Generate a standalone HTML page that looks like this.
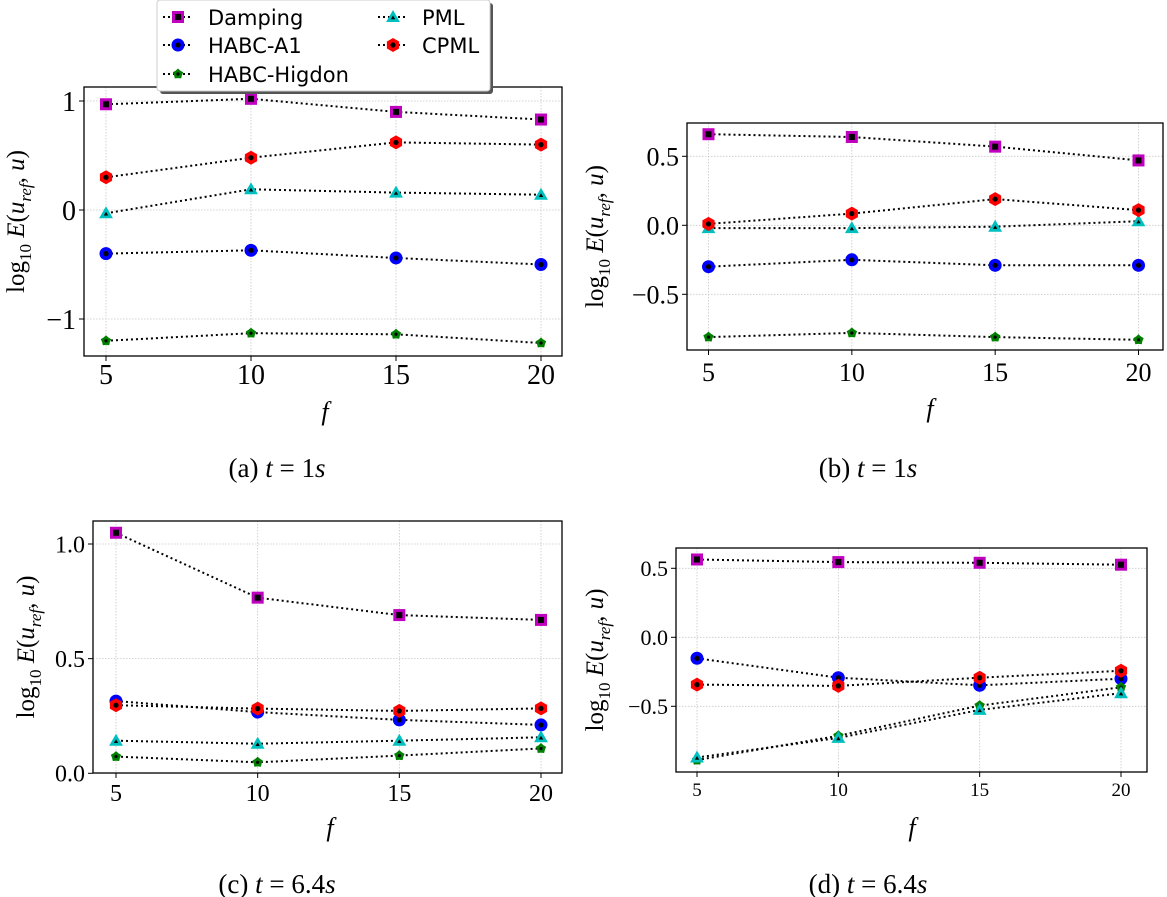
<!DOCTYPE html>
<html><head><meta charset="utf-8">
<style>
body{margin:0;background:#fff;}
svg{display:block;}
.tk{font-family:"Liberation Serif",serif;fill:#000;}
.lg{font-family:"DejaVu Sans","Liberation Sans",sans-serif;font-size:21px;fill:#000;}
</style></head>
<body>
<svg id="fig" width="1167" height="897" viewBox="0 0 1167 897" xmlns="http://www.w3.org/2000/svg"></svg>
<script>
const categories = [5, 10, 15, 20];
const seriesNames = ["Damping", "HABC-A1", "HABC-Higdon", "PML", "CPML"];
// panel a (t=1s)
const aDamping = [0.97, 1.02, 0.90, 0.83];
const aA1 = [-0.40, -0.37, -0.44, -0.50];
const aHigdon = [-1.20, -1.13, -1.14, -1.22];
const aPML = [-0.03, 0.19, 0.16, 0.14];
const aCPML = [0.30, 0.48, 0.62, 0.60];
const aYTicks = [-1, 0, 1];
const aYTickLabels = ["\u22121", "0", "1"];
// panel b (t=1s)
const bDamping = [0.66, 0.64, 0.57, 0.47];
const bA1 = [-0.30, -0.25, -0.29, -0.29];
const bHigdon = [-0.81, -0.78, -0.81, -0.83];
const bPML = [-0.02, -0.02, -0.01, 0.03];
const bCPML = [0.01, 0.085, 0.19, 0.11];
const bYTicks = [-0.5, 0, 0.5];
const bYTickLabels = ["\u22120.5", "0.0", "0.5"];
// panel c (t=6.4s)
const cDamping = [1.049, 0.766, 0.690, 0.669];
const cA1 = [0.315, 0.267, 0.233, 0.211];
const cHigdon = [0.073, 0.048, 0.077, 0.108];
const cPML = [0.142, 0.129, 0.142, 0.157];
const cCPML = [0.297, 0.282, 0.272, 0.283];
const cYTicks = [0, 0.5, 1.0];
const cYTickLabels = ["0.0", "0.5", "1.0"];
// panel d (t=6.4s)
const dDamping = [0.564, 0.545, 0.54, 0.526];
const dA1 = [-0.152, -0.293, -0.348, -0.30];
const dHigdon = [-0.89, -0.714, -0.495, -0.362];
const dPML = [-0.871, -0.729, -0.526, -0.405];
const dCPML = [-0.343, -0.352, -0.293, -0.243];
const dYTicks = [-0.5, 0, 0.5];
const dYTickLabels = ["\u22120.5", "0.0", "0.5"];

const NS = "http://www.w3.org/2000/svg";
const svg = document.getElementById("fig");
function mk(tag, attrs, parent){
  const e = document.createElementNS(NS, tag);
  for (const k in attrs) e.setAttribute(k, attrs[k]);
  (parent||svg).appendChild(e);
  return e;
}
function poly(cx, cy, r, n, rot){
  const p=[];
  for(let i=0;i<n;i++){const a=rot+i*2*Math.PI/n;p.push((cx+r*Math.cos(a)).toFixed(1)+","+(cy+r*Math.sin(a)).toFixed(1));}
  return p.join(" ");
}
function marker(g, kind, x, y, big){
  const s = big ? 1 : 0.75;
  let e, e2;
  if(kind==="Damping"){
    e = mk("rect",{x:x-6*s,y:y-6*s,width:12*s,height:12*s,fill:"#bf00bf"},g);
    e2 = mk("rect",{x:x-3,y:y-3,width:6,height:6,fill:"#000"},g);
  } else if(kind==="HABC-A1"){
    e = mk("circle",{cx:x,cy:y,r:6.5*s,fill:"#0000ff"},g);
    e2 = mk("circle",{cx:x,cy:y,r:2.6,fill:"#000"},g);
  } else if(kind==="HABC-Higdon"){
    e = mk("polygon",{points:poly(x,y,5.5*s,10,-Math.PI/2).split(" ").map((p,i)=>{ if(i%2){const [px,py]=p.split(",").map(Number);return (x+(px-x)*0.75).toFixed(1)+","+(y+(py-y)*0.75).toFixed(1);} return p;}).join(" "),fill:"#008000"},g);
    e2 = mk("circle",{cx:x,cy:y,r:1.6,fill:"#000"},g);
  } else if(kind==="PML"){
    e = mk("polygon",{points:poly(x,y+1,8*s,3,-Math.PI/2),fill:"#00bfbf"},g);
    e2 = mk("polygon",{points:poly(x,y+1,2.5,3,-Math.PI/2),fill:"#000"},g);
  } else {
    e = mk("polygon",{points:poly(x,y,7*s,6,-Math.PI/2),fill:"#ff0000"},g);
    e2 = mk("circle",{cx:x,cy:y,r:2.6,fill:"#000"},g);
  }
  
  
  
  
}

function panel(id, box, x5, x20, yA, yAv, yB, yBv, yTicks, yLabels, series, xFs, yFs, xTickY, ylabX, fPos, caption, capPos){
  const g = mk("g",{});
  
  
  const X = f => x5 + (f-5)*(x20-x5)/15;
  const Y = v => yA + (v-yAv)*(yB-yA)/(yBv-yAv);
  categories.forEach(c=>{
    const l = mk("line",{x1:X(c),x2:X(c),y1:box[1],y2:box[3],stroke:"#c8c8c8","stroke-width":0.8,"stroke-dasharray":"1.5,1.5"},g);
    
    
  });
  yTicks.forEach(v=>{
    const l = mk("line",{x1:box[0],x2:box[2],y1:Y(v),y2:Y(v),stroke:"#c8c8c8","stroke-width":0.8,"stroke-dasharray":"1.5,1.5"},g);
    
    
  });
  series.forEach(([name, vals])=>{
    const pts = categories.map((c,i)=>X(c).toFixed(1)+","+Y(vals[i]).toFixed(1)).join(" ");
    const pl = mk("polyline",{points:pts,fill:"none",stroke:"#000","stroke-width":2,"stroke-dasharray":"2,3"},g);
    
    
  });
  series.forEach(([name, vals])=>{
    categories.forEach((c,i)=>marker(g, name, X(c), Y(vals[i]), true));
  });
  const r = mk("rect",{x:box[0],y:box[1],width:box[2]-box[0],height:box[3]-box[1],fill:"none",stroke:"#000","stroke-width":1.3},g);
  
  
  categories.forEach(c=>{
    const t = mk("line",{x1:X(c),x2:X(c),y1:box[3],y2:box[3]+5,stroke:"#000","stroke-width":1},g);
    
    
    const tx = mk("text",{x:X(c),y:xTickY,"text-anchor":"middle","font-size":xFs,class:"tk"},g);
    tx.textContent = String(c);
    
    
  });
  yTicks.forEach((v,i)=>{
    const t = mk("line",{x1:box[0]-5,x2:box[0],y1:Y(v),y2:Y(v),stroke:"#000","stroke-width":1},g);
    
    
    const tx = mk("text",{x:box[0]-8,y:Y(v)+yFs*0.35,"text-anchor":"end","font-size":yFs,class:"tk"},g);
    tx.textContent = yLabels[i];
    
    
  });
  const cy = (box[1]+box[3])/2;
  const yl = mk("text",{x:ylabX,y:cy,transform:`rotate(-90 ${ylabX} ${cy})`,"text-anchor":"middle","font-size":25,class:"tk"},g);
  yl.innerHTML = 'log<tspan font-size="17" dy="7">10</tspan><tspan dy="-7" font-style="italic"> E</tspan>(<tspan font-style="italic">u</tspan><tspan font-size="17" dy="7" font-style="italic">ref</tspan><tspan dy="-7">, </tspan><tspan font-style="italic">u</tspan>)';
  
  
  const fl = mk("text",{x:fPos[0],y:fPos[1],"text-anchor":"middle","font-size":26,"font-style":"italic",class:"tk"},g);
  fl.textContent = "f";
  
  
  const cp = mk("text",{x:capPos[0],y:capPos[1],"text-anchor":"middle","font-size":27,class:"tk"},g);
  cp.innerHTML = caption;
  
  
}

panel("a",[84,87,562,356],106,541,210,0,101,1,aYTicks,aYTickLabels,
  [["Damping",aDamping],["HABC-A1",aA1],["HABC-Higdon",aHigdon],["PML",aPML],["CPML",aCPML]],
  28,28,384,24,[325,420],'(a)  <tspan font-style="italic">t</tspan> = 1<tspan font-style="italic">s</tspan>',[277,477]);
panel("b",[687,123,1163,350],708.5,1138.5,225.3,0,156.3,0.5,bYTicks,bYTickLabels,
  [["Damping",bDamping],["HABC-A1",bA1],["HABC-Higdon",bHigdon],["PML",bPML],["CPML",bCPML]],
  26,26,381,603,[930,417],'(b)  <tspan font-style="italic">t</tspan> = 1<tspan font-style="italic">s</tspan>',[868,477]);
panel("c",[93,521,562,773],116,541,773.3,0,544,1.0,cYTicks,cYTickLabels,
  [["Damping",cDamping],["HABC-A1",cA1],["HABC-Higdon",cHigdon],["PML",cPML],["CPML",cCPML]],
  24,24,801,34,[330,836],'(c)  <tspan font-style="italic">t</tspan> = 6.4<tspan font-style="italic">s</tspan>',[277,893]);
panel("d",[676,548,1147,772],697,1121,637.3,0,568.3,0.5,dYTicks,dYTickLabels,
  [["Damping",dDamping],["HABC-A1",dA1],["HABC-Higdon",dHigdon],["PML",dPML],["CPML",dCPML]],
  19,22,796,603,[912,836],'(d)  <tspan font-style="italic">t</tspan> = 6.4<tspan font-style="italic">s</tspan>',[868,893]);

const lg = mk("g",{});


mk("rect",{x:160,y:3,width:333,height:91,rx:3,fill:"#555"},lg);
const lb = mk("rect",{x:157,y:0,width:333,height:91,rx:3,fill:"#fff",stroke:"#ccc","stroke-width":1},lg);


const legPos = [[178,208,17],[178,208,45],[178,208,74],[393,422,17],[393,422,45]];
seriesNames.forEach((n,i)=>{
  const [mx,tx,y] = legPos[i];
  const eg = mk("g",{},lg);
  
  
  mk("line",{x1:mx-15,x2:mx+15,y1:y,y2:y,stroke:"#000","stroke-width":2,"stroke-dasharray":"2,3"},eg);
  marker(eg, n, mx, y, true);
  const t = mk("text",{x:tx,y:y+8,class:"lg"},eg);
  t.textContent = n;
  
  
});
</script>
</body></html>
